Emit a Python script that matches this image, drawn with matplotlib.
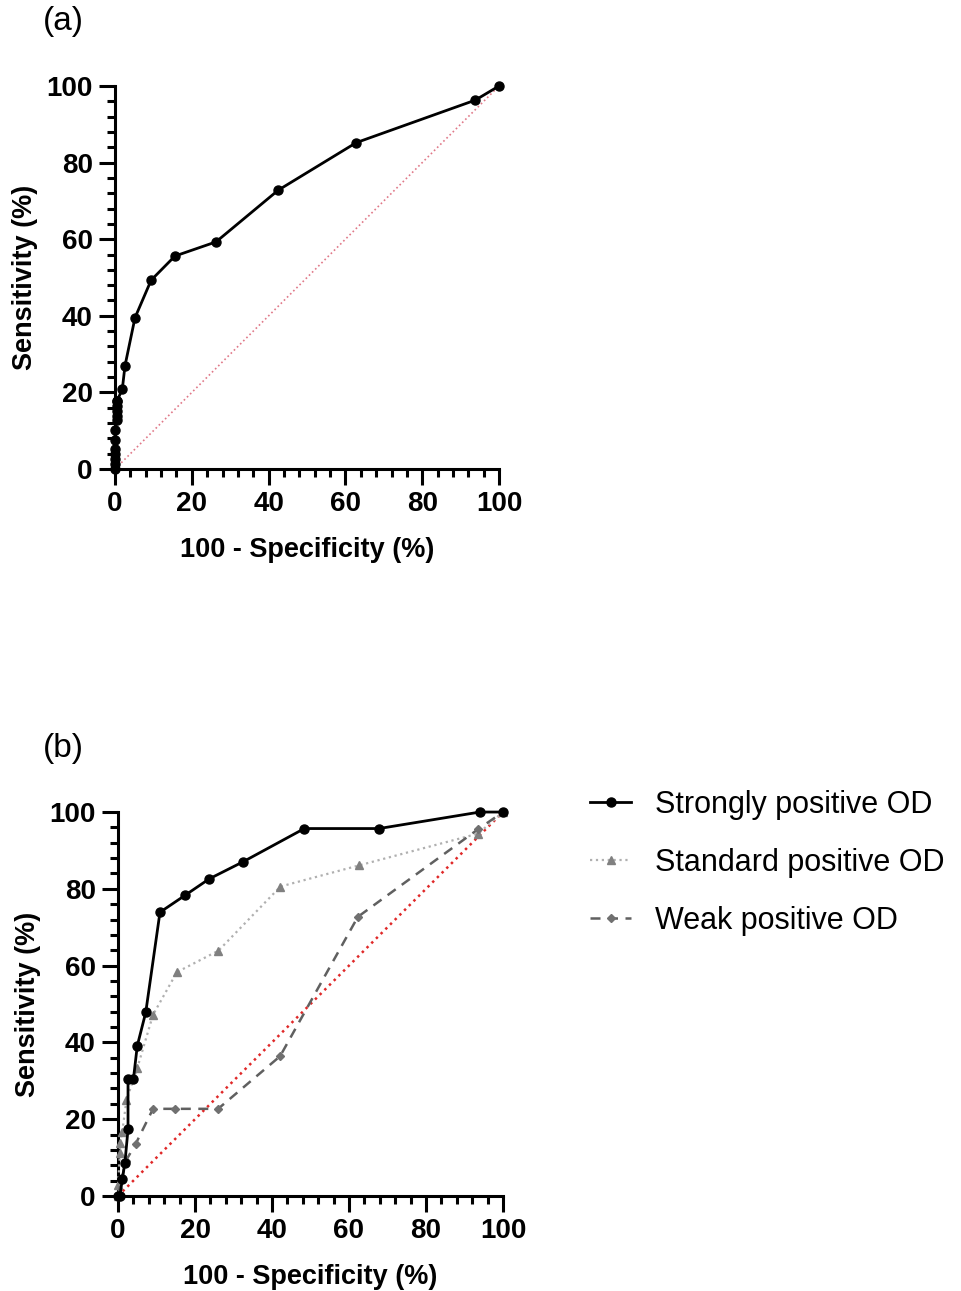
import matplotlib.pyplot as plt
from matplotlib.ticker import MultipleLocator

plt.rcParams['font.family'] = ['Liberation Sans', 'DejaVu Sans']

# panel (a) - single ROC curve
a_fpr = [0, 0, 0, 0, 0, 0, 0, 0.5, 0.5, 0.5, 0.5, 0.5, 0.5, 1.9, 2.6, 5.2, 9.4,
         15.6, 26.3, 42.5, 62.8, 93.8, 100]
a_sens = [0, 1.3, 2.5, 3.8, 5.1, 7.6, 10.1, 12.7, 13.9, 15.2, 16.5, 17.7, 17.7,
          20.9, 27.0, 39.5, 49.3, 55.6, 59.3, 72.8, 85.2, 96.3, 100]

# panel (b) - three OD groups
strong_fpr = [0, 0.5, 1.1, 1.8, 2.6, 2.6, 4.0, 5.0, 7.2, 10.9, 17.4, 23.7, 32.4,
              48.4, 67.8, 94.0, 100]
strong_sens = [0, 0, 4.3, 8.7, 17.4, 30.4, 30.4, 39.1, 47.8, 73.9, 78.3, 82.6,
               87.0, 95.7, 95.7, 100, 100]

standard_fpr = [0, 0, 0.5, 0.5, 1.1, 2.2, 5.0, 9.1, 15.3, 26.1, 42.2, 62.6, 93.6, 100]
standard_sens = [0, 2.8, 11.1, 13.9, 16.7, 25.0, 33.3, 47.2, 58.3, 63.9, 80.6,
                 86.1, 94.4, 100]

weak_fpr = [0, 1.0, 2.0, 4.6, 9.1, 14.8, 26.0, 42.1, 62.3, 93.5, 100]
weak_sens = [0, 4.5, 9.1, 13.6, 22.7, 22.7, 22.7, 36.4, 72.7, 95.5, 100]

diag = [0, 100]
ticks = [0, 20, 40, 60, 80, 100]


def style_axes(ax):
    ax.set_xlim(0, 100)
    ax.set_ylim(0, 100)
    ax.spines['top'].set_visible(False)
    ax.spines['right'].set_visible(False)
    for s in ['left', 'bottom']:
        ax.spines[s].set_linewidth(2.2)
    ax.set_xticks(ticks)
    ax.set_yticks(ticks)
    ax.xaxis.set_minor_locator(MultipleLocator(4))
    ax.yaxis.set_minor_locator(MultipleLocator(4))
    ax.tick_params(which='major', length=11.5, width=2.2, labelsize=20, pad=4.5)
    ax.tick_params(which='minor', length=6, width=2.2)
    for lab in ax.get_xticklabels() + ax.get_yticklabels():
        lab.set_fontweight('bold')
    ax.set_xlabel('100 - Specificity (%)', fontsize=19.5, fontweight='bold', labelpad=14)
    ax.set_ylabel('Sensitivity (%)', fontsize=19.5, fontweight='bold', labelpad=6)


fig = plt.figure(figsize=(9.61, 12.91), dpi=100)

ax1 = fig.add_axes([0.1197, 0.6367, 0.3996, 0.2967])
ax1.plot(diag, diag, color='#e07888', linestyle=':', linewidth=1.2)
ax1.plot(a_fpr, a_sens, color='black', linewidth=2, marker='o', markersize=6.5,
         clip_on=False, zorder=3)
style_axes(ax1)

ax2 = fig.add_axes([0.1228, 0.0736, 0.4006, 0.2974])
ax2.plot(diag, diag, color='#e02828', linestyle=':', linewidth=1.8)
ax2.plot(strong_fpr, strong_sens, color='black', linewidth=2, marker='o',
         markersize=6.5, clip_on=False, zorder=4, label='Strongly positive OD')
ax2.plot(standard_fpr, standard_sens, color='#b0b0b0', linestyle=':', linewidth=1.6,
         marker='^', markersize=6, markerfacecolor='#808080', markeredgecolor='#808080',
         clip_on=False, zorder=3, label='Standard positive OD')
ax2.plot(weak_fpr, weak_sens, color='#606060', linestyle=(0, (4, 3)), linewidth=1.8,
         marker='D', markersize=4.5, markerfacecolor='#707070', markeredgecolor='#707070',
         clip_on=False, zorder=3, label='Weak positive OD')
style_axes(ax2)

fig.legend(loc='center left', bbox_to_anchor=(0.614, 0.3318), frameon=False,
           fontsize=22, handlelength=1.35, handletextpad=0.78, labelspacing=0.92,
           borderpad=0, borderaxespad=0)

fig.text(0.045, 0.983, '(a)', fontsize=24, va='center')
fig.text(0.045, 0.42, '(b)', fontsize=24, va='center')

plt.savefig('out.png', dpi=100)
